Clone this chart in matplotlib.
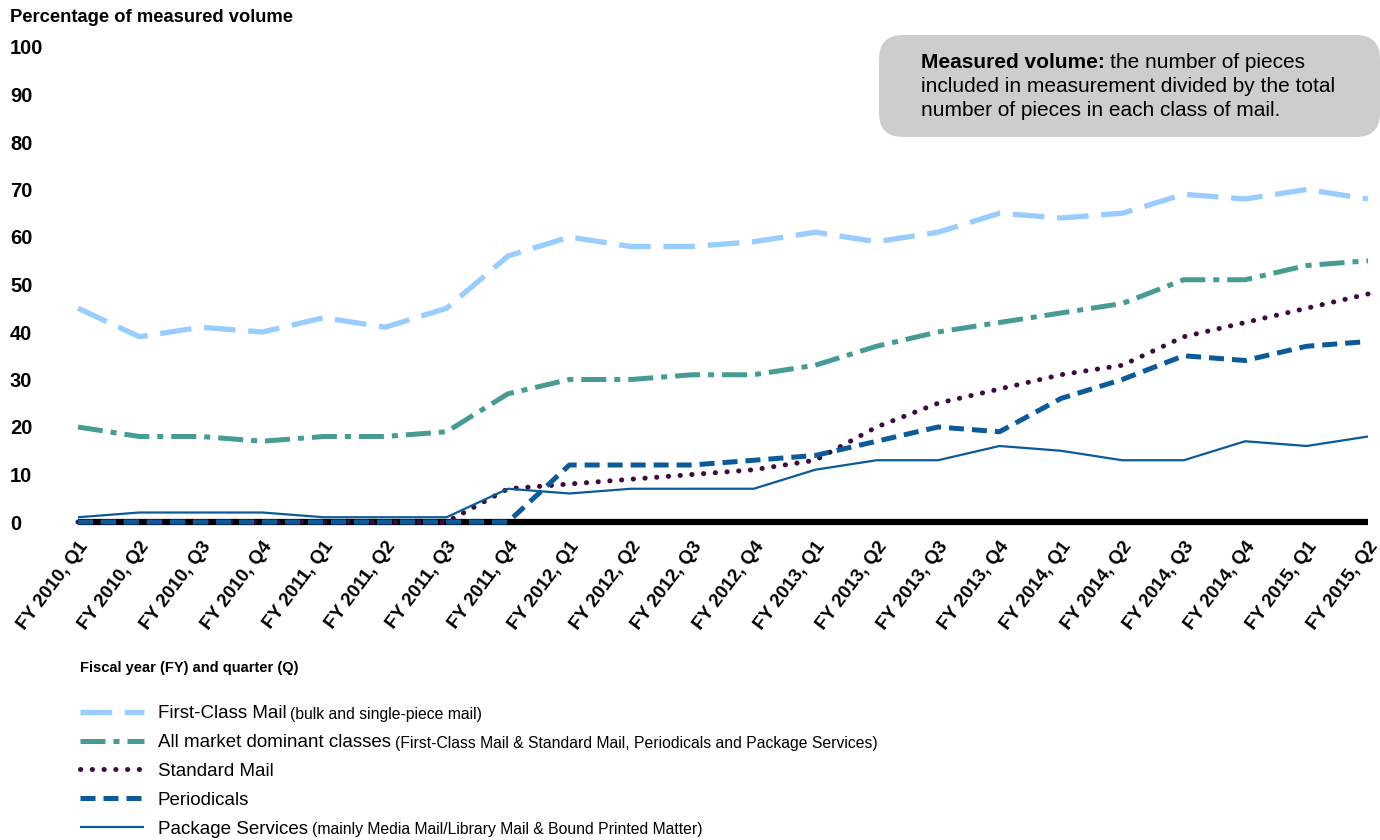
import matplotlib
matplotlib.use("Agg")
import matplotlib.pyplot as plt
from matplotlib.patches import FancyBboxPatch
from matplotlib import font_manager

# ---- data -------------------------------------------------------------
quarters = [
    "FY 2010, Q1", "FY 2010, Q2", "FY 2010, Q3", "FY 2010, Q4",
    "FY 2011, Q1", "FY 2011, Q2", "FY 2011, Q3", "FY 2011, Q4",
    "FY 2012, Q1", "FY 2012, Q2", "FY 2012, Q3", "FY 2012, Q4",
    "FY 2013, Q1", "FY 2013, Q2", "FY 2013, Q3", "FY 2013, Q4",
    "FY 2014, Q1", "FY 2014, Q2", "FY 2014, Q3", "FY 2014, Q4",
    "FY 2015, Q1", "FY 2015, Q2",
]
first_class = [45, 39, 41, 40, 43, 41, 45, 56, 60, 58, 58, 59,
               61, 59, 61, 65, 64, 65, 69, 68, 70, 68]
all_market = [20, 18, 18, 17, 18, 18, 19, 27, 30, 30, 31, 31,
              33, 37, 40, 42, 44, 46, 51, 51, 54, 55]
standard_mail = [0, 0, 0, 0, 0, 0, 0, 7, 8, 9, 10, 11,
                 13, 20, 25, 28, 31, 33, 39, 42, 45, 48]
periodicals = [0, 0, 0, 0, 0, 0, 0, 0, 12, 12, 12, 13,
               14, 17, 20, 19, 26, 30, 35, 34, 37, 38]
package_services = [1, 2, 2, 2, 1, 1, 1, 7, 6, 7, 7, 7,
                    11, 13, 13, 16, 15, 13, 13, 17, 16, 18]
y_ticks = list(range(0, 101, 10))

legend_main = ["First-Class Mail", "All market dominant classes", "Standard Mail",
               "Periodicals", "Package Services"]
legend_note = ["(bulk and single-piece mail)",
               "(First-Class Mail & Standard Mail, Periodicals and Package Services)",
               "", "",
               "(mainly Media Mail/Library Mail & Bound Printed Matter)"]

# ---- fonts ------------------------------------------------------------
names = {f.name for f in font_manager.fontManager.ttflist}
SANS = "Liberation Sans" if "Liberation Sans" in names else "DejaVu Sans"
NARROW = "Liberation Sans Narrow" if "Liberation Sans Narrow" in names else SANS
plt.rcParams["font.family"] = [SANS, "DejaVu Sans"]

# ---- figure -----------------------------------------------------------
W, H = 1380, 840
fig = plt.figure(figsize=(W / 100, H / 100), dpi=100)
ax = fig.add_axes([78 / W, 1 - 522 / H, (1368 - 78) / W, (522 - 47) / H])

x = list(range(len(quarters)))

# zero baseline
ax.axhline(0, color="black", lw=4.5, zorder=1, clip_on=False,
           solid_capstyle="butt")

series = [
    (first_class, "#99CCFF", 3.8, (0, (6.0, 2.4)), "butt"),
    (all_market, "#469B94", 3.6, (0, (5.0, 1.6, 1.2, 1.6)), "butt"),
    (standard_mail, "#3E0B3E", 3.6, (0, (0.05, 2.3)), "round"),
    (periodicals, "#0B5A9A", 3.6, (0, (3.0, 1.6)), "butt"),
    (package_services, "#0B5A9A", 1.6, "-", "butt"),
]
handles = []
for vals, color, lw, ls, cap in series:
    (ln,) = ax.plot(x, vals, color=color, lw=lw, linestyle=ls,
                    dash_capstyle=cap, solid_capstyle="butt",
                    zorder=3, clip_on=False)
    handles.append(ln)

ax.set_xlim(0, len(quarters) - 1)
ax.set_ylim(0, 100)
for s in ax.spines.values():
    s.set_visible(False)

ax.set_yticks(y_ticks)
ax.set_yticklabels([str(v) for v in y_ticks], fontsize=14.5, fontweight="bold",
                   ha="left")
ax.tick_params(axis="y", length=0, pad=49)

ax.set_xticks(x)
ax.set_xticklabels(quarters, rotation=53, ha="right", va="top",
                   rotation_mode="anchor", fontsize=13.5, fontweight="bold")
ax.tick_params(axis="x", length=0, pad=12)

# axis titles
fig.text(10 / W, 1 - 17 / H, "Percentage of measured volume", fontsize=13.2,
         fontweight="bold", ha="left", va="center")
fig.text(80 / W, 1 - 668 / H, "Fiscal year (FY) and quarter (Q)", fontsize=10.5,
         fontweight="bold", ha="left", va="center")

# legend
leg = fig.legend(handles, legend_main, loc="upper left",
                 bbox_to_anchor=(80 / W, 1 - 705 / H), frameon=False,
                 fontsize=13.5, handlelength=3.4, handletextpad=0.75,
                 labelspacing=0.63, borderpad=0, borderaxespad=0)

# definition box
box = FancyBboxPatch((899 / W, 1 - 117 / H), (1360 - 899) / W, 62 / H,
                     boxstyle="round", transform=fig.transFigure,
                     facecolor="#CDCDCD", edgecolor="none",
                     mutation_aspect=W / H)
box.set_boxstyle("round", pad=20 / W, rounding_size=24 / W)
fig.add_artist(box)

fig.canvas.draw()
renderer = fig.canvas.get_renderer()

# parenthetical notes after each legend label
for txt, note in zip(leg.get_texts(), legend_note):
    if not note:
        continue
    bb = txt.get_window_extent(renderer)
    fig.text((bb.x1 + 4) / W, bb.y0 / H + 3.5 / H, note, fontsize=11.3,
             family=[NARROW, "DejaVu Sans"], ha="left", va="baseline")

BOX_FS = 15
bold_part = fig.text(921 / W, 1 - 63 / H, "Measured volume:", fontsize=BOX_FS,
                     fontweight="bold", ha="left", va="center")
fig.canvas.draw()
bb = bold_part.get_window_extent(renderer)
fig.text((bb.x1 + 5) / W, 1 - 63 / H, "the number of pieces", fontsize=BOX_FS,
         ha="left", va="center")
fig.text(921 / W, 1 - 87 / H, "included in measurement divided by the total",
         fontsize=BOX_FS, ha="left", va="center")
fig.text(921 / W, 1 - 111 / H, "number of pieces in each class of mail.",
         fontsize=BOX_FS, ha="left", va="center")

fig.savefig("out.png", dpi=100)
